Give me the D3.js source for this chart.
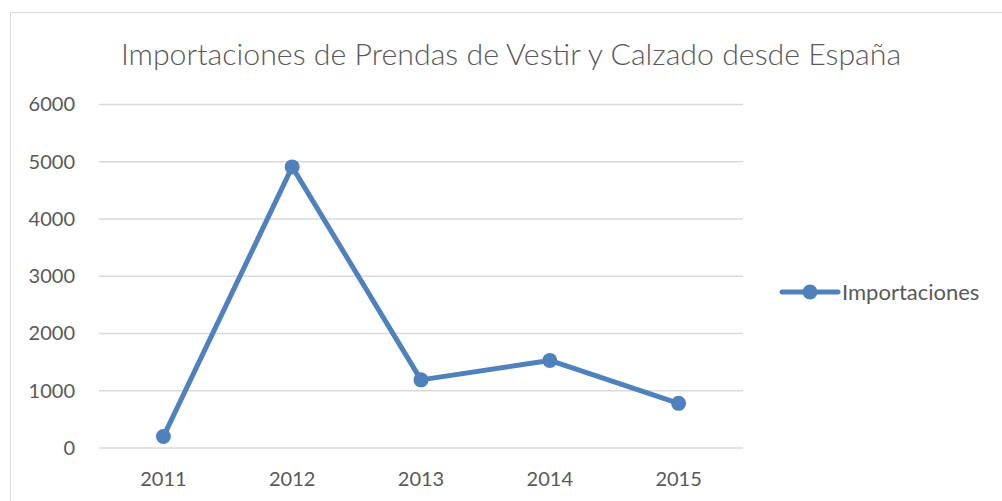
<!DOCTYPE html>
<html>
<head>
<meta charset="utf-8">
<script src="https://cdn.jsdelivr.net/npm/d3@7"></script>
<style>
  body { margin: 0; background: #fff; }
  text { font-family: Lato, "Open Sans", sans-serif; fill: #595959; }
</style>
</head>
<body>
<svg id="chart" width="1002" height="501"></svg>
<script>
// datos
const years = ["2011", "2012", "2013", "2014", "2015"];
const importaciones = [200, 4910, 1190, 1530, 780];
const yTicks = [0, 1000, 2000, 3000, 4000, 5000, 6000];
const seriesName = "Importaciones";
const chartTitle = "Importaciones de Prendas de Vestir y Calzado desde España";

const svg = d3.select("#chart");
const color = "#4f81bd";

// borde del área del gráfico
svg.append("rect")
    .attr("x", 10.5).attr("y", 12.5)
    .attr("width", 1010).attr("height", 520)
    .attr("fill", "none")
    .attr("stroke", "#d9d9d9");

const x = d3.scaleBand().domain(years).range([99, 743]);
const y = d3.scaleLinear().domain([0, 6000]).range([448, 104.5]);

// título
svg.append("text")
    .attr("x", 511).attr("y", 65)
    .attr("text-anchor", "middle")
    .style("font-size", "30.3px")
    .style("font-weight", 300)
    .text(chartTitle);

// líneas de cuadrícula
const grid = svg.append("g");
grid.selectAll("line")
    .data(yTicks)
    .enter()
    .append("line")
    .attr("x1", x.range()[0]).attr("x2", x.range()[1])
    .attr("y1", d => y(d)).attr("y2", d => y(d))
    .attr("stroke", "#d9d9d9")
    .attr("stroke-width", 1.3);

// eje y
const yAxis = svg.append("g")
    .attr("transform", `translate(${x.range()[0]},0)`)
    .call(d3.axisLeft(y).tickValues(yTicks).tickFormat(d3.format("d")).tickSize(0).tickPadding(24));
yAxis.select(".domain").remove();
yAxis.selectAll("text").style("font-size", "20px");

// eje x
const xAxis = svg.append("g")
    .attr("transform", `translate(0,${y(0)})`)
    .call(d3.axisBottom(x).tickSize(0).tickPadding(24));
xAxis.select(".domain").remove();
xAxis.selectAll("text").style("font-size", "20px");

// serie
const cx = (d, i) => x(years[i]) + x.bandwidth() / 2;
const line = d3.line().x(cx).y(d => y(d));

svg.append("path")
    .datum(importaciones)
    .attr("d", line)
    .attr("fill", "none")
    .attr("stroke", color)
    .attr("stroke-width", 5)
    .attr("stroke-linejoin", "round")
    .attr("stroke-linecap", "round");

svg.selectAll(".punto")
    .data(importaciones)
    .enter()
    .append("circle")
    .attr("class", "punto")
    .attr("cx", cx)
    .attr("cy", d => y(d))
    .attr("r", 7.5)
    .attr("fill", color);

// leyenda
const legend = svg.append("g").attr("transform", "translate(782,292)");
legend.append("line")
    .attr("x1", 0).attr("x2", 56)
    .attr("stroke", color)
    .attr("stroke-width", 5)
    .attr("stroke-linecap", "round");
legend.append("circle")
    .attr("cx", 28).attr("r", 7.5)
    .attr("fill", color);
legend.append("text")
    .attr("x", 60).attr("dy", "0.35em")
    .style("font-size", "22px")
    .text(seriesName);
</script>
</body>
</html>
